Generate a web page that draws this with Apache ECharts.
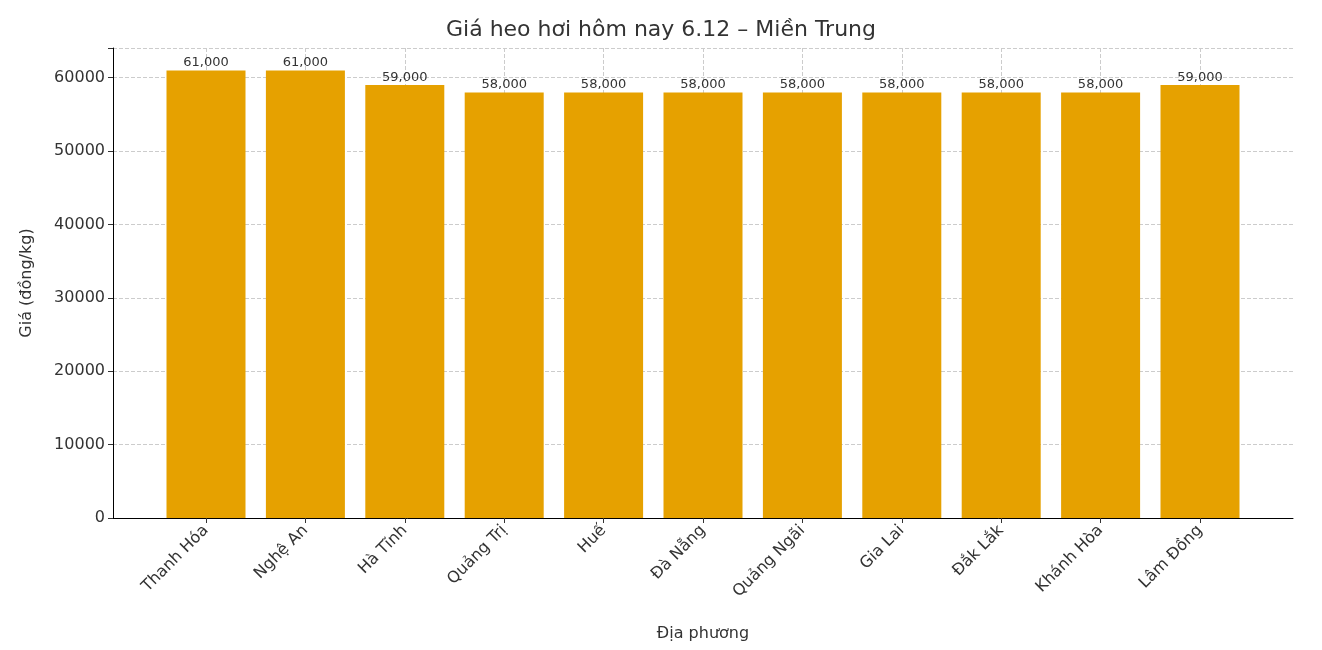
<!DOCTYPE html><html><head><meta charset="utf-8"><script src="https://cdn.jsdelivr.net/npm/echarts@6/dist/echarts.min.js"></script></head><body style="margin:0"><div id="c" style="width:1322px;height:650px"></div><script>
const categories=["Thanh Hóa","Nghệ An","Hà Tĩnh","Quảng Trị","Huế","Đà Nẵng","Quảng Ngãi","Gia Lai","Đắk Lắk","Khánh Hòa","Lâm Đồng"];
const prices=[61000,61000,59000,58000,58000,58000,58000,58000,58000,58000,59000];
const yTicks=[0,10000,20000,30000,40000,50000,60000];
const F='"DejaVu Sans", sans-serif';
const ch=echarts.init(document.getElementById('c'));
ch.setOption({
 title:{text:'Giá heo hơi hôm nay 6.12 – Miền Trung',left:'center',top:14,textStyle:{fontFamily:F,fontSize:22,fontWeight:'normal',color:'#333'}},
 grid:[{left:113,right:29,top:48,bottom:132},{left:206,right:122,top:48,bottom:132}],
 xAxis:[{gridIndex:0,type:'value',min:0,max:1,axisLine:{show:true,onZero:false,lineStyle:{color:'#000'}},axisTick:{show:false},axisLabel:{show:false},splitLine:{show:false},
   name:'Địa phương',nameLocation:'middle',nameGap:108,nameTextStyle:{fontFamily:F,fontSize:16,color:'#333'}},
  {gridIndex:1,type:'category',data:categories,boundaryGap:false,axisLine:{show:false},axisTick:{show:true,length:5,lineStyle:{color:'#333'}},
   splitLine:{show:true,lineStyle:{type:'dashed',color:'#ccc'}},axisLabel:{interval:0,rotate:45,fontFamily:F,fontSize:16,color:'#333',margin:10}}],
 yAxis:[{gridIndex:0,type:'value',min:0,max:64050,interval:10000,axisLine:{show:true,lineStyle:{color:'#000'}},axisTick:{show:true,length:5,lineStyle:{color:'#333'}},
   axisLabel:{fontFamily:F,fontSize:16,color:'#333',formatter:v=>yTicks.includes(v)?String(v):''},splitLine:{lineStyle:{type:'dashed',color:'#ccc'}},
   name:'Giá (đồng/kg)',nameLocation:'middle',nameGap:78,nameTextStyle:{fontFamily:F,fontSize:16,color:'#333'}},
  {gridIndex:1,type:'value',min:0,max:64050,show:false,splitLine:{show:false}}],
 series:[{type:'bar',xAxisIndex:1,yAxisIndex:1,data:prices,barWidth:79,itemStyle:{color:'#E6A100'},z:1,
  label:{show:true,position:'top',distance:1,fontFamily:F,fontSize:13,color:'#333',formatter:p=>p.value.toLocaleString('en-US')}}]
});
</script></body></html>
